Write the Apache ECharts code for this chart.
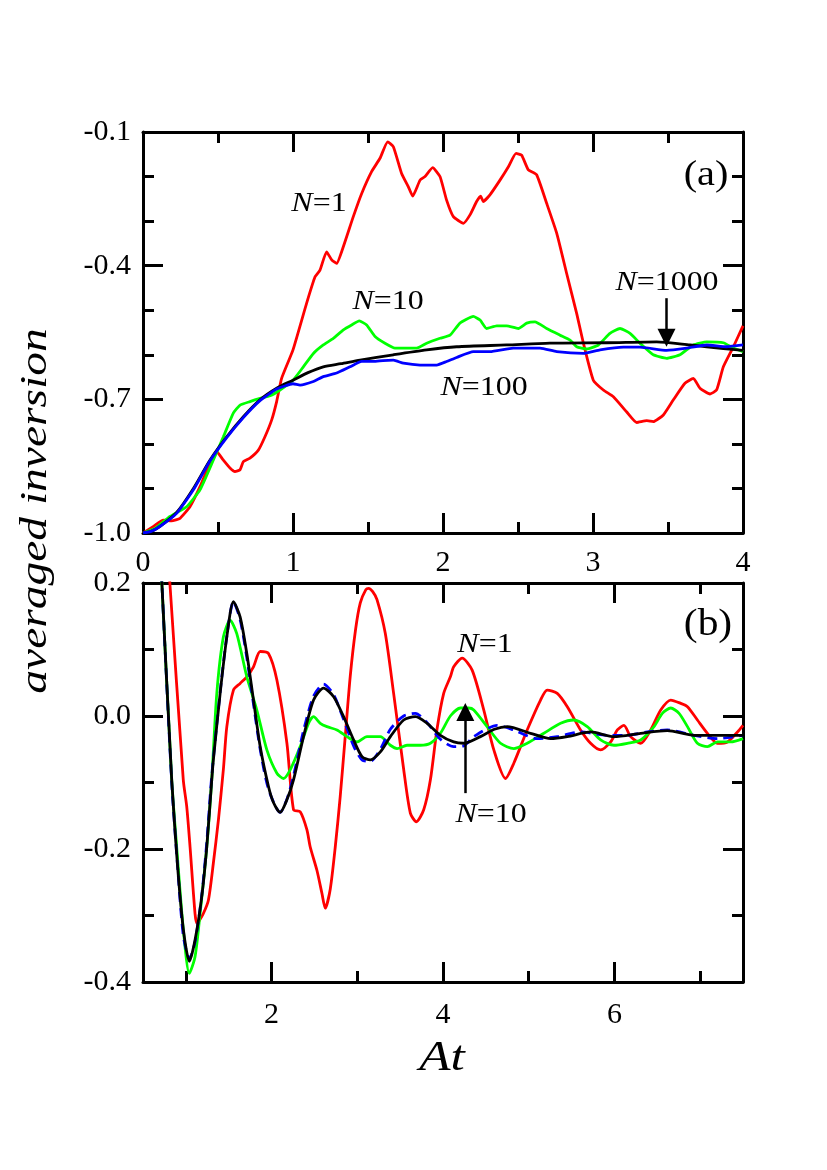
<!DOCTYPE html>
<html>
<head>
<meta charset="utf-8">
<script src="https://cdn.jsdelivr.net/npm/echarts@6/dist/echarts.min.js"></script>
<style>
  html, body { margin: 0; padding: 0; background: #fff; }
  #chart { width: 827px; height: 1170px; }
</style>
</head>
<body>
<div id="chart"></div>
<script>
// ---------- data: [At, averaged inversion] ----------
// panel (a)
const aRedN1 = [[0,-1.0],[0.07,-0.985],[0.135,-0.971],[0.19,-0.973],[0.247,-0.967],[0.313,-0.941],[0.38,-0.896],[0.447,-0.843],[0.49,-0.817],[0.535,-0.836],[0.58,-0.854],[0.613,-0.862],[0.647,-0.858],[0.669,-0.84],[0.713,-0.832],[0.769,-0.814],[0.813,-0.784],[0.858,-0.746],[0.891,-0.705],[0.924,-0.653],[1.0,-0.589],[1.091,-0.484],[1.147,-0.425],[1.18,-0.41],[1.224,-0.369],[1.258,-0.387],[1.291,-0.395],[1.336,-0.357],[1.402,-0.29],[1.458,-0.238],[1.524,-0.189],[1.58,-0.159],[1.631,-0.122],[1.669,-0.133],[1.724,-0.193],[1.769,-0.223],[1.798,-0.244],[1.847,-0.208],[1.88,-0.2],[1.931,-0.18],[1.98,-0.2],[2.024,-0.253],[2.069,-0.29],[2.136,-0.305],[2.18,-0.286],[2.224,-0.256],[2.251,-0.244],[2.269,-0.256],[2.313,-0.241],[2.38,-0.208],[2.436,-0.178],[2.487,-0.148],[2.524,-0.152],[2.569,-0.185],[2.624,-0.196],[2.691,-0.26],[2.758,-0.327],[2.824,-0.417],[2.891,-0.507],[2.936,-0.574],[3.002,-0.657],[3.069,-0.679],[3.136,-0.694],[3.224,-0.728],[3.291,-0.752],[3.358,-0.748],[3.402,-0.75],[3.469,-0.735],[3.536,-0.701],[3.613,-0.664],[3.669,-0.653],[3.713,-0.675],[3.78,-0.688],[3.824,-0.679],[3.869,-0.627],[3.936,-0.582],[4.0,-0.535]];
const aGreenN10 = [[0,-1.0],[0.08,-0.99],[0.18,-0.963],[0.291,-0.941],[0.38,-0.903],[0.469,-0.836],[0.536,-0.784],[0.602,-0.731],[0.647,-0.713],[0.713,-0.705],[0.78,-0.698],[0.847,-0.692],[0.913,-0.679],[1.0,-0.657],[1.069,-0.627],[1.136,-0.597],[1.202,-0.578],[1.269,-0.563],[1.336,-0.544],[1.391,-0.533],[1.442,-0.524],[1.491,-0.533],[1.547,-0.559],[1.613,-0.574],[1.68,-0.585],[1.758,-0.585],[1.824,-0.585],[1.891,-0.574],[1.98,-0.563],[2.047,-0.556],[2.113,-0.529],[2.202,-0.514],[2.247,-0.522],[2.291,-0.541],[2.358,-0.535],[2.424,-0.535],[2.502,-0.541],[2.558,-0.529],[2.613,-0.526],[2.691,-0.541],[2.78,-0.556],[2.847,-0.567],[2.891,-0.582],[2.958,-0.587],[3.036,-0.578],[3.113,-0.552],[3.18,-0.541],[3.247,-0.552],[3.313,-0.574],[3.402,-0.6],[3.491,-0.608],[3.58,-0.6],[3.669,-0.578],[3.758,-0.571],[3.869,-0.573],[3.936,-0.585],[4.0,-0.593]];
const aBlackN1000 = [[0,-1.0],[0.05,-0.997],[0.113,-0.985],[0.224,-0.954],[0.336,-0.9],[0.447,-0.836],[0.558,-0.784],[0.669,-0.739],[0.78,-0.701],[0.891,-0.675],[1.0,-0.657],[1.1,-0.64],[1.202,-0.627],[1.32,-0.62],[1.447,-0.612],[1.669,-0.6],[1.891,-0.589],[2.091,-0.582],[2.424,-0.578],[2.713,-0.574],[3.091,-0.573],[3.424,-0.571],[3.647,-0.578],[3.869,-0.586],[4.0,-0.59]];
const aBlueN100 = [[0,-1.0],[0.05,-0.997],[0.11,-0.986],[0.224,-0.956],[0.336,-0.903],[0.447,-0.838],[0.558,-0.786],[0.669,-0.741],[0.78,-0.703],[0.891,-0.677],[1.0,-0.665],[1.047,-0.668],[1.136,-0.66],[1.202,-0.649],[1.291,-0.641],[1.38,-0.627],[1.458,-0.615],[1.536,-0.615],[1.6,-0.613],[1.669,-0.612],[1.736,-0.619],[1.847,-0.623],[1.958,-0.623],[2.024,-0.615],[2.091,-0.606],[2.202,-0.593],[2.313,-0.593],[2.469,-0.585],[2.647,-0.585],[2.758,-0.593],[2.936,-0.597],[3.047,-0.589],[3.202,-0.583],[3.313,-0.583],[3.491,-0.59],[3.624,-0.585],[3.758,-0.578],[3.891,-0.582],[4.0,-0.578]];

// panel (b)
const bRedN1 = [[0.76,0.3],[0.815,0.197],[0.97,-0.096],[1.01,-0.136],[1.049,-0.197],[1.107,-0.297],[1.13,-0.312],[1.146,-0.31],[1.204,-0.297],[1.263,-0.277],[1.321,-0.221],[1.38,-0.156],[1.438,-0.08],[1.478,-0.016],[1.555,0.039],[1.633,0.049],[1.711,0.059],[1.789,0.074],[1.867,0.097],[1.964,0.094],[2.062,0.054],[2.179,-0.041],[2.256,-0.141],[2.334,-0.144],[2.412,-0.171],[2.451,-0.197],[2.529,-0.232],[2.588,-0.267],[2.626,-0.289],[2.685,-0.26],[2.743,-0.197],[2.801,-0.121],[2.86,-0.03],[2.918,0.06],[2.98,0.13],[3.035,0.17],[3.1,0.19],[3.132,0.192],[3.18,0.187],[3.23,0.175],[3.327,0.124],[3.424,0.034],[3.541,-0.08],[3.619,-0.146],[3.689,-0.159],[3.775,-0.141],[3.853,-0.096],[3.93,-0.02],[4.008,0.034],[4.086,0.059],[4.125,0.074],[4.223,0.087],[4.34,0.069],[4.476,0.009],[4.593,-0.051],[4.729,-0.094],[4.826,-0.071],[4.982,-0.021],[5.138,0.024],[5.216,0.039],[5.333,0.034],[5.45,0.014],[5.605,-0.021],[5.722,-0.041],[5.839,-0.051],[5.956,-0.039],[6.034,-0.021],[6.111,-0.014],[6.189,-0.031],[6.306,-0.041],[6.423,-0.021],[6.54,0.009],[6.657,0.024],[6.774,0.019],[6.852,0.014],[6.968,-0.006],[7.085,-0.026],[7.202,-0.041],[7.319,-0.039],[7.436,-0.024],[7.5,-0.014]];
const bGreenN10 = [[0.66,0.35],[0.72,0.2],[0.835,-0.096],[0.893,-0.197],[0.971,-0.322],[1.041,-0.387],[1.107,-0.362],[1.166,-0.297],[1.244,-0.197],[1.302,-0.096],[1.361,0.034],[1.438,0.119],[1.516,0.144],[1.594,0.124],[1.711,0.059],[1.828,0.009],[1.945,-0.051],[2.062,-0.086],[2.139,-0.094],[2.217,-0.081],[2.334,-0.046],[2.431,-0.011],[2.49,-0.001],[2.568,-0.011],[2.646,-0.016],[2.763,-0.021],[2.88,-0.031],[2.996,-0.039],[3.113,-0.031],[3.269,-0.031],[3.386,-0.044],[3.464,-0.049],[3.58,-0.044],[3.736,-0.044],[3.853,-0.041],[3.97,-0.026],[4.086,0.0],[4.203,0.012],[4.3,0.012],[4.359,0.009],[4.515,-0.016],[4.671,-0.041],[4.826,-0.049],[4.982,-0.041],[5.177,-0.026],[5.372,-0.011],[5.527,-0.006],[5.683,-0.016],[5.839,-0.036],[5.994,-0.044],[6.15,-0.041],[6.306,-0.036],[6.462,-0.016],[6.559,0.004],[6.657,0.012],[6.754,0.004],[6.852,-0.016],[6.968,-0.041],[7.085,-0.046],[7.202,-0.039],[7.358,-0.039],[7.5,-0.034]];
const bBlueN100 = [[0.66,0.36],[0.72,0.2],[0.835,-0.1],[0.9,-0.22],[0.97,-0.33],[1.041,-0.365],[1.107,-0.34],[1.185,-0.27],[1.244,-0.19],[1.302,-0.09],[1.4,0.036],[1.478,0.12],[1.555,0.172],[1.633,0.145],[1.711,0.088],[1.789,0.018],[1.867,-0.05],[1.964,-0.11],[2.1,-0.145],[2.179,-0.125],[2.256,-0.09],[2.373,-0.022],[2.49,0.03],[2.607,0.048],[2.724,0.032],[2.84,-0.005],[2.957,-0.045],[3.055,-0.066],[3.152,-0.068],[3.269,-0.05],[3.386,-0.02],[3.541,0.0],[3.678,0.004],[3.814,-0.01],[3.97,-0.035],[4.125,-0.046],[4.242,-0.045],[4.359,-0.031],[4.632,-0.014],[4.826,-0.021],[5.099,-0.034],[5.333,-0.031],[5.605,-0.024],[5.917,-0.029],[6.15,-0.029],[6.384,-0.024],[6.617,-0.021],[6.929,-0.029],[7.202,-0.034],[7.5,-0.029]];
const bBlackN1000 = [[0.66,0.36],[0.72,0.2],[0.835,-0.096],[0.9,-0.22],[0.97,-0.32],[1.041,-0.369],[1.107,-0.337],[1.185,-0.272],[1.244,-0.197],[1.302,-0.096],[1.321,-0.066],[1.4,0.034],[1.478,0.119],[1.555,0.172],[1.633,0.149],[1.711,0.094],[1.789,0.024],[1.867,-0.046],[1.964,-0.106],[2.022,-0.13],[2.1,-0.145],[2.179,-0.126],[2.256,-0.096],[2.373,-0.031],[2.49,0.024],[2.607,0.042],[2.724,0.029],[2.84,-0.001],[2.957,-0.036],[3.055,-0.061],[3.152,-0.066],[3.269,-0.054],[3.386,-0.031],[3.541,-0.006],[3.678,-0.001],[3.814,-0.011],[3.97,-0.029],[4.125,-0.039],[4.242,-0.041],[4.437,-0.031],[4.6,-0.02],[4.749,-0.016],[5.021,-0.026],[5.255,-0.034],[5.45,-0.031],[5.722,-0.024],[5.994,-0.031],[6.306,-0.026],[6.617,-0.022],[6.929,-0.029],[7.279,-0.029],[7.5,-0.029]];

// tick positions
const aXMajor = [0, 1, 2, 3, 4];
const aXMinor = [0.5, 1.5, 2.5, 3.5];
const aYMajor = [-1.0, -0.7, -0.4, -0.1];
const aYMinor = [-0.9, -0.8, -0.6, -0.5, -0.3, -0.2];
const bXMajor = [2, 4, 6];
const bXMinor = [1, 3, 5, 7];
const bYMajor = [-0.4, -0.2, 0.0, 0.2];
const bYMinor = [-0.3, -0.1, 0.1];

// arrows: [x, yFrom, yTo]
const aArrow = [3.49, -0.473, -0.562];
const bArrow = [4.26, -0.116, 0.006];

const FONT = '"Liberation Serif", "Times New Roman", serif';
const AX = { color: '#000', width: 3 };

// four axes per side pair: main (line + long ticks), minor ticks, mirrored main, mirrored minor
const makeAxes = (grid, pos, mirror, min, max, major, minor, label) => {
	const base = { type: 'value', gridIndex: grid, min, max, splitLine: { show: false } };
	const tick = (vals, len) => ({ inside: true, length: len, lineStyle: AX, customValues: vals });
	return [
		{ ...base, position: pos, axisLine: { onZero: false, lineStyle: AX }, axisTick: tick(major, 20),
			axisLabel: { customValues: major, fontFamily: FONT, fontSize: 30, color: '#000', ...label } },
		{ ...base, position: pos, axisLine: { show: false, onZero: false }, axisTick: tick(minor, 11), axisLabel: { show: false } },
		{ ...base, position: mirror, axisLine: { onZero: false, lineStyle: AX }, axisTick: tick(major, 20), axisLabel: { show: false } },
		{ ...base, position: mirror, axisLine: { show: false, onZero: false }, axisTick: tick(minor, 11), axisLabel: { show: false } },
	];
};

const fmt1 = v => v.toFixed(1);
const xAxis = [
	...makeAxes(0, 'bottom', 'top', 0, 4, aXMajor, aXMinor, { margin: 15 }),
	...makeAxes(1, 'bottom', 'top', 0.5, 7.5, bXMajor, bXMinor, { margin: 18 }),
];
const yAxis = [
	...makeAxes(0, 'left', 'right', -1.0, -0.1, aYMajor, aYMinor, { margin: 12, formatter: fmt1 }),
	...makeAxes(1, 'left', 'right', -0.4, 0.2, bYMajor, bYMinor, { margin: 12, formatter: fmt1 }),
];

const line = (data, color, axis, extra) => ({
	type: 'line', data, xAxisIndex: axis, yAxisIndex: axis,
	showSymbol: false, symbol: 'none', smooth: 0.25, silent: true,
	lineStyle: { color, width: 2.8 }, ...extra,
});

const arrow = a => ({
	silent: true, symbol: ['none', 'triangle'], symbolSize: 18,
	label: { show: false }, lineStyle: { color: '#000', width: 2.5, type: 'solid' },
	data: [[{ coord: [a[0], a[1]] }, { coord: [a[0], a[2]] }]],
});

// the figure's lettering is wider than the plain font, so stretch it a little
const nLabel = (text, x, y) => ({
	type: 'text', x, y, scaleX: 1.14, silent: true,
	style: {
		text: '{i|N}=' + text, align: 'center', verticalAlign: 'middle',
		font: '28px ' + FONT, fill: '#000',
		rich: { i: { fontStyle: 'italic', fontSize: 28, fontFamily: FONT } },
	},
});

const plain = (text, x, y, size, italic, sx, rot) => ({
	type: 'text', x, y, rotation: rot || 0, scaleX: sx, silent: true,
	style: { text, align: 'center', verticalAlign: 'middle', fill: '#000',
		font: (italic ? 'italic ' : '') + size + 'px ' + FONT },
});

const chart = echarts.init(document.getElementById('chart'), null, { renderer: 'canvas' });
chart.setOption({
	animation: false,
	backgroundColor: '#fff',
	grid: [
		{ left: 143, top: 132, width: 600, height: 401 },
		{ left: 143, top: 583, width: 600, height: 399 },
	],
	xAxis,
	yAxis,
	series: [
		line(aRedN1, '#ff0000', 0, { smooth: 0.15 }),
		line(aGreenN10, '#00ff00', 0, { smooth: 0.15 }),
		line(aBlackN1000, '#000000', 0, { markLine: arrow(aArrow) }),
		line(aBlueN100, '#0000ff', 0, { smooth: 0.15 }),
		line(bRedN1, '#ff0000', 4),
		line(bGreenN10, '#00ff00', 4),
		line(bBlueN100, '#0000ff', 4, { lineStyle: { color: '#0000ff', width: 2.8, type: [10, 6] } }),
		line(bBlackN1000, '#000000', 4, { markLine: arrow(bArrow) }),
	],
	graphic: [
		plain('averaged inversion', 36, 511, 38, true, 1.25, Math.PI / 2),
		plain('At', 442, 1059, 42, true, 1.22),
		plain('(a)', 706, 176, 36, false, 1.12),
		plain('(b)', 708, 625, 37, false, 1.12),
		nLabel('1', 319, 204),
		nLabel('10', 388, 302),
		nLabel('100', 484, 388),
		nLabel('1000', 667, 283),
		nLabel('1', 485, 645),
		nLabel('10', 491, 815),
	],
});
</script>
</body>
</html>
